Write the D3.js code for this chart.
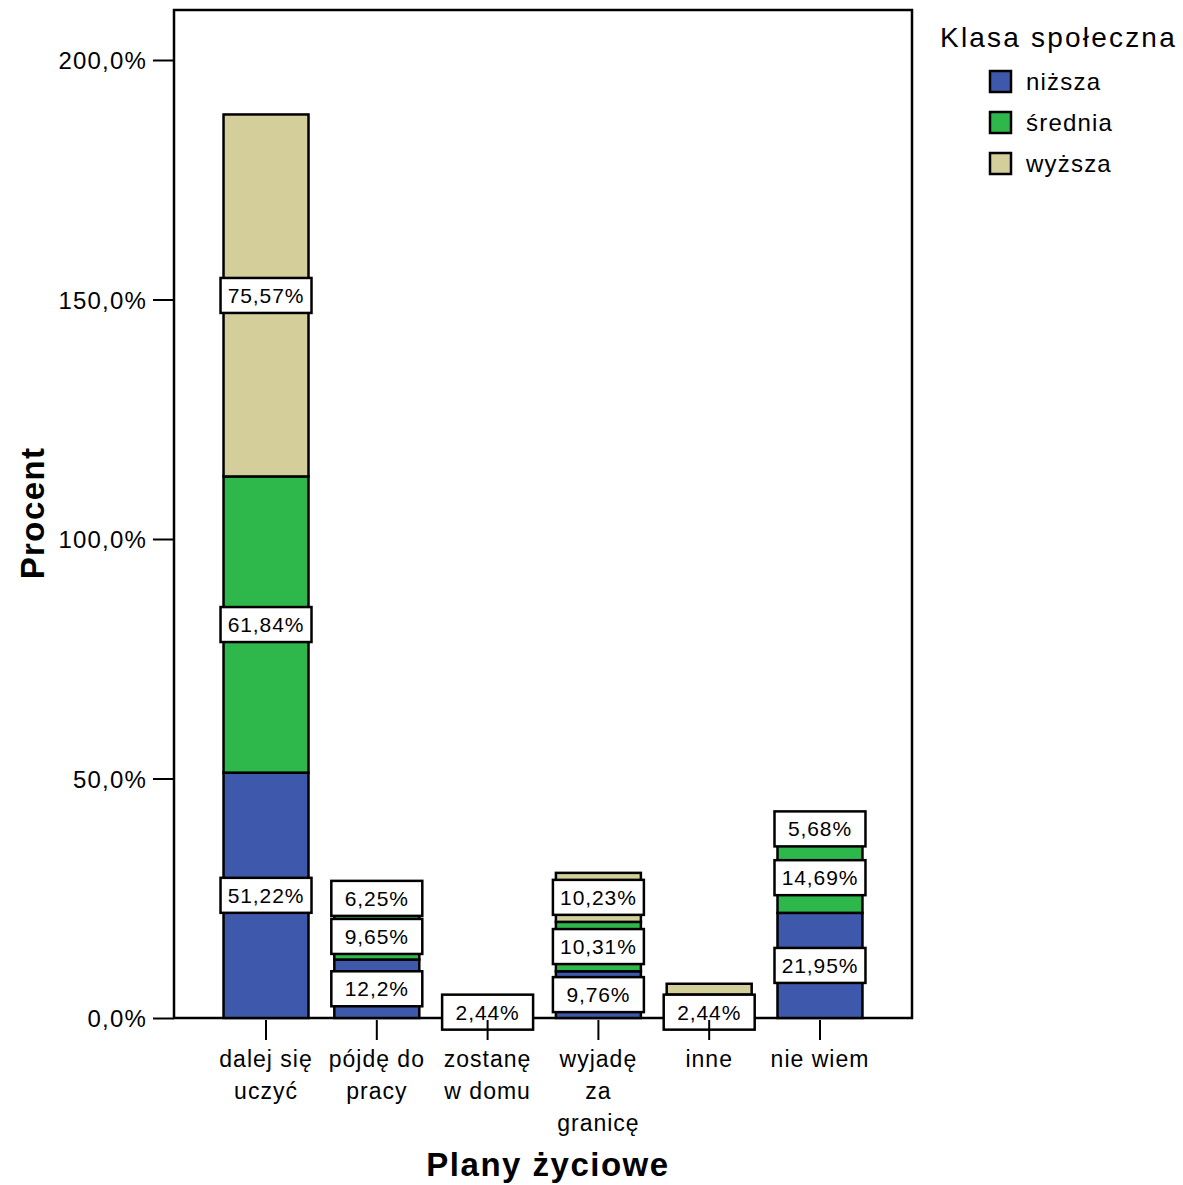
<!DOCTYPE html>
<html>
<head>
<meta charset="utf-8">
<script src="https://cdn.jsdelivr.net/npm/d3@7/dist/d3.min.js"></script>
<style>
  html, body { margin: 0; padding: 0; background: #fff; }
  svg { display: block; }
  text { font-family: "Liberation Sans", Arial, sans-serif; fill: #000; }
</style>
</head>
<body>
<script>
// ---- data ----
const categories = ["dalej się uczyć", "pójdę do pracy", "zostanę w domu", "wyjadę za granicę", "inne", "nie wiem"];
const categoryLines = [["dalej się", "uczyć"], ["pójdę do", "pracy"], ["zostanę", "w domu"], ["wyjadę", "za", "granicę"], ["inne"], ["nie wiem"]];
const seriesNames = ["niższa", "średnia", "wyższa"];
const nizsza  = [51.22, 12.2, 2.44, 9.76, 2.44, 21.95];
const srednia = [61.84, 9.65, 1.07, 10.31, 2.44, 14.69];
const wyzsza  = [75.57, 6.25, 0, 10.23, 2.27, 5.68];
const labelsNizsza  = ["51,22%", "12,2%", "2,44%", "9,76%", "2,44%", "21,95%"];
const labelsSrednia = ["61,84%", "9,65%", null, "10,31%", null, "14,69%"];
const labelsWyzsza  = ["75,57%", "6,25%", null, "10,23%", null, "5,68%"];
const yTicks = [0, 50, 100, 150, 200];
const colors = ["#3e59ab", "#2eb84b", "#d3ce9a"];

(function () {
const W = 1183, H = 1185;
const svg = d3.select("body").append("svg").attr("width", W).attr("height", H);

const pL = 174, pR = 912, pT = 10, pB = 1018;
const x = d3.scaleBand().domain(categories).range([pL, pR]).paddingInner(0.233).paddingOuter(0.447);
const y = d3.scaleLinear().domain([0, 200]).range([pB, 60]);

const series = [nizsza, srednia, wyzsza];
const labels = [labelsNizsza, labelsSrednia, labelsWyzsza];

const segs = [];
categories.forEach((c, i) => {
  let base = 0;
  series.forEach((s, k) => {
    const v = s[i];
    segs.push({ c, k, y0: base, y1: base + v, v, label: labels[k][i] });
    base += v;
  });
});

svg.append("rect").attr("x", pL).attr("y", pT).attr("width", pR - pL).attr("height", pB - pT)
  .attr("fill", "none").attr("stroke", "#000").attr("stroke-width", 2.5);

svg.append("g").selectAll("rect").data(segs.filter(d => d.v > 0)).join("rect")
  .attr("x", d => x(d.c))
  .attr("width", x.bandwidth())
  .attr("y", d => y(d.y1))
  .attr("height", d => y(d.y0) - y(d.y1))
  .attr("fill", d => colors[d.k])
  .attr("stroke", "#000").attr("stroke-width", 2.5);

const lg = svg.append("g").selectAll("g").data(segs.filter(d => d.label)).join("g")
  .attr("transform", d => `translate(${x(d.c) + x.bandwidth() / 2},${y((d.y0 + d.y1) / 2)})`);
lg.append("rect").attr("x", -(x.bandwidth() / 2 + 3)).attr("width", x.bandwidth() + 6)
  .attr("y", -17.5).attr("height", 35)
  .attr("fill", "#fff").attr("stroke", "#000").attr("stroke-width", 2.5);
lg.append("text").attr("text-anchor", "middle").attr("y", 7.5)
  .style("font-size", "21px").style("letter-spacing", "0.9px")
  .text(d => d.label);

const yAxis = svg.append("g").attr("transform", `translate(${pL},0)`)
  .call(d3.axisLeft(y).tickValues(yTicks).tickSize(21).tickPadding(6)
    .tickFormat(d => d.toFixed(1).replace(".", ",") + "%"));
yAxis.attr("font-family", null).attr("font-size", null);
yAxis.select(".domain").remove();
yAxis.selectAll(".tick line").attr("stroke", "#000").attr("stroke-width", 2);
yAxis.selectAll(".tick text").style("font-size", "24px").style("letter-spacing", "1.2px")
  .attr("dy", "0.36em");

const xt = svg.append("g").selectAll("g").data(categories).join("g")
  .attr("transform", d => `translate(${x(d) + x.bandwidth() / 2},0)`);
xt.append("line").attr("y1", pB + 2).attr("y2", pB + 22).attr("stroke", "#000").attr("stroke-width", 2);
xt.each(function (d, i) {
  const t = d3.select(this).append("text").attr("text-anchor", "middle")
    .style("font-size", "23px").style("letter-spacing", "1px");
  categoryLines[i].forEach((ln, j) => {
    t.append("tspan").attr("x", 0).attr("y", 1067 + j * 32).text(ln);
  });
});

svg.append("text").attr("x", 548).attr("y", 1176).attr("text-anchor", "middle")
  .style("font-size", "33px").style("font-weight", "bold").style("letter-spacing", "1.5px")
  .text("Plany życiowe");
svg.append("text").attr("transform", "translate(44,513) rotate(-90)").attr("text-anchor", "middle")
  .style("font-size", "33px").style("font-weight", "bold").style("letter-spacing", "1.4px")
  .text("Procent");

const leg = svg.append("g");
leg.append("text").attr("x", 940).attr("y", 47).style("font-size", "28px").style("letter-spacing", "2.2px")
  .text("Klasa społeczna");
const li = leg.selectAll("g.item").data(seriesNames).join("g").attr("class", "item")
  .attr("transform", (d, i) => `translate(990,${71 + i * 41})`);
li.append("rect").attr("width", 21).attr("height", 21).attr("fill", (d, i) => colors[i])
  .attr("stroke", "#000").attr("stroke-width", 2.5);
li.append("text").attr("x", 36).attr("y", 19).style("font-size", "24px").style("letter-spacing", "1.2px")
  .text(d => d);
})();
</script>
</body>
</html>
